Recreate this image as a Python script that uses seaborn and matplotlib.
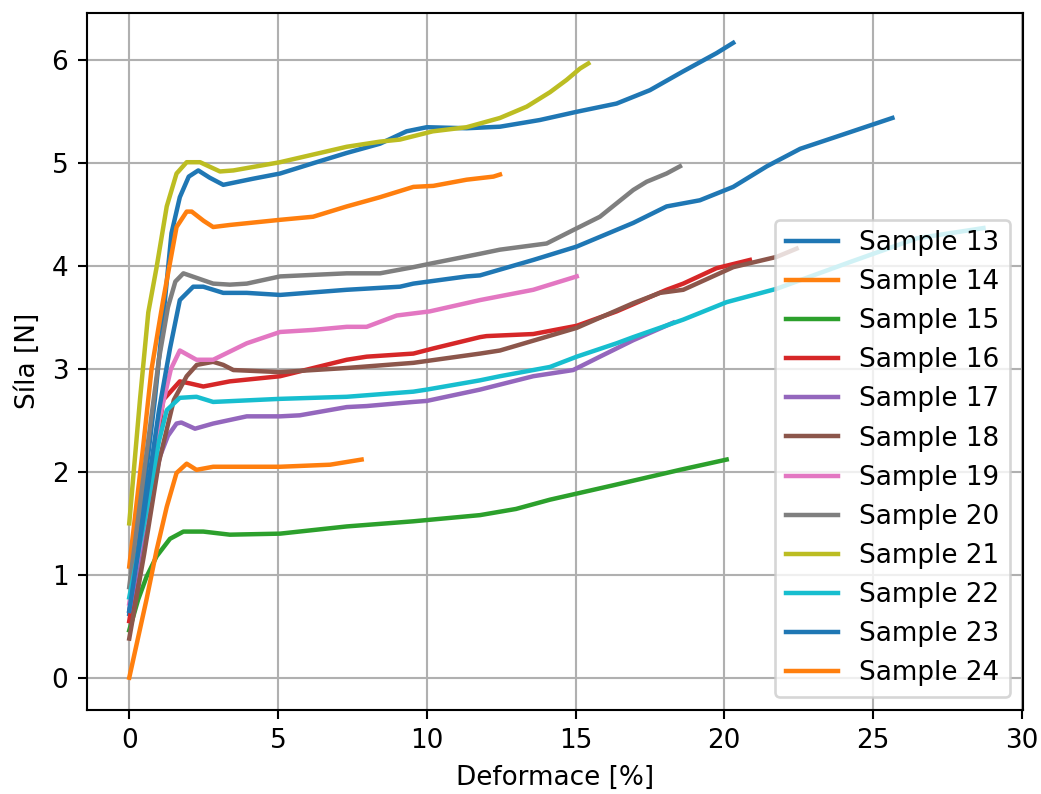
import matplotlib
matplotlib.use("Agg")
import matplotlib.pyplot as plt
import seaborn as sns
import pandas as pd

# Tensile test curves: strain [%] vs force [N] for samples 13-24
s13_x = [0, 0.4, 0.86, 1.2, 1.42, 1.7, 2.0, 2.32, 2.7, 3.16, 4.17, 5.07, 6.18, 7.31, 8.43, 9.32, 10.0,
         11.34, 12.46, 13.8, 15.04, 16.38, 17.5, 18.6, 19.74, 20.3]
s13_y = [0.62, 1.6, 2.7, 3.67, 4.32, 4.67, 4.87, 4.93, 4.86, 4.79, 4.85, 4.9, 5.0, 5.1, 5.19, 5.31, 5.35,
         5.34, 5.355, 5.42, 5.5, 5.58, 5.71, 5.89, 6.07, 6.17]

s14_x = [0, 0.45, 0.75, 1.14, 1.59, 1.93, 2.1, 2.5, 2.82, 3.38, 5.07, 6.18, 7.31, 8.43, 9.55, 10.22,
         11.34, 12.24, 12.46]
s14_y = [1.08, 2.2, 3.0, 3.67, 4.38, 4.53, 4.53, 4.44, 4.38, 4.40, 4.45, 4.48, 4.58, 4.67, 4.77, 4.78,
         4.84, 4.87, 4.89]

s15_x = [0, 0.30, 0.58, 0.92, 1.37, 1.82, 2.49, 3.38, 5.07, 7.31, 9.55, 11.79, 13.0, 14.14, 16.27,
         18.51, 20.08]
s15_y = [0.46, 0.76, 0.98, 1.18, 1.35, 1.42, 1.42, 1.39, 1.40, 1.47, 1.52, 1.58, 1.64, 1.73, 1.87,
         2.02, 2.12]

s16_x = [0, 0.5, 1.14, 1.7, 2.04, 2.49, 3.38, 5.07, 7.31, 7.98, 9.55, 10.22, 11.79, 12.01, 13.58,
         15.04, 16.38, 18.06, 18.62, 19.74, 20.86]
s16_y = [0.55, 1.4, 2.70, 2.88, 2.86, 2.83, 2.88, 2.93, 3.09, 3.12, 3.15, 3.2, 3.31, 3.32, 3.34,
         3.42, 3.56, 3.77, 3.83, 3.98, 4.06]

s17_x = [0, 0.5, 1.03, 1.3, 1.59, 1.75, 2.21, 2.82, 3.95, 5.07, 5.73, 7.31, 7.98, 9.55, 10.0, 11.79,
         13.58, 14.92, 15.82, 16.94, 18.28]
s17_y = [0.65, 1.4, 2.15, 2.35, 2.47, 2.48, 2.42, 2.47, 2.54, 2.54, 2.55, 2.63, 2.64, 2.68, 2.69, 2.80,
         2.93, 2.99, 3.12, 3.28, 3.45]

s18_x = [0, 0.5, 1.0, 1.5, 1.93, 2.27, 2.82, 3.16, 3.5, 5.07, 7.31, 9.55, 11.79, 12.46, 15.04, 16.94,
         17.84, 18.62, 20.3, 21.76, 22.43]
s18_y = [0.38, 1.2, 2.1, 2.7, 2.93, 3.04, 3.07, 3.04, 2.99, 2.97, 3.01, 3.06, 3.15, 3.18, 3.40, 3.64,
         3.74, 3.77, 3.99, 4.09, 4.17]

s19_x = [0, 0.5, 1.0, 1.4, 1.7, 2.26, 2.82, 3.95, 5.07, 6.18, 7.31, 7.98, 8.99, 10.1, 11.79, 13.58, 15.04]
s19_y = [0.72, 1.5, 2.5, 3.0, 3.18, 3.09, 3.09, 3.25, 3.36, 3.38, 3.41, 3.41, 3.52, 3.56, 3.67, 3.77, 3.90]

s20_x = [0, 0.5, 1.0, 1.3, 1.55, 1.82, 2.82, 3.38, 3.95, 5.07, 7.31, 8.43, 9.55, 10.22, 11.79, 12.46,
         14.03, 14.92, 15.82, 16.94, 17.39, 18.06, 18.51]
s20_y = [0.88, 2.0, 3.1, 3.6, 3.85, 3.93, 3.83, 3.82, 3.83, 3.90, 3.93, 3.93, 3.99, 4.03, 4.12, 4.16,
         4.22, 4.35, 4.48, 4.74, 4.82, 4.90, 4.97]

s21_x = [0, 0.36, 0.64, 0.92, 1.26, 1.59, 1.93, 2.38, 2.6, 3.05, 3.5, 5.07, 7.31, 8.43, 9.1, 10.2,
         11.34, 12.46, 13.36, 14.14, 14.7, 15.15, 15.43]
s21_y = [1.50, 2.70, 3.55, 3.99, 4.58, 4.90, 5.01, 5.01, 4.98, 4.92, 4.93, 5.01, 5.16, 5.21, 5.23, 5.31,
         5.35, 5.44, 5.55, 5.69, 5.81, 5.92, 5.97]

s22_x = [0, 0.5, 1.0, 1.26, 1.70, 2.26, 2.82, 5.07, 7.31, 9.55, 10.0, 11.79, 12.46, 14.14, 15.04,
         16.38, 16.94, 18.62, 20.08, 21.76, 24.23, 26.47, 28.71]
s22_y = [0.78, 1.5, 2.3, 2.60, 2.72, 2.73, 2.68, 2.71, 2.73, 2.78, 2.80, 2.89, 2.93, 3.02, 3.12,
         3.25, 3.31, 3.48, 3.65, 3.78, 4.04, 4.27, 4.37]

s23_x = [0, 0.5, 1.0, 1.37, 1.7, 2.15, 2.49, 3.16, 3.95, 5.07, 7.31, 9.1, 9.55, 11.34, 11.79, 13.58,
         15.04, 16.94, 18.06, 19.18, 20.3, 21.43, 22.55, 24.0, 25.65]
s23_y = [0.65, 1.6, 2.6, 3.2, 3.67, 3.80, 3.80, 3.74, 3.74, 3.72, 3.77, 3.80, 3.83, 3.90, 3.91, 4.06,
         4.19, 4.42, 4.58, 4.64, 4.77, 4.97, 5.14, 5.28, 5.44]

s24_x = [0, 0.58, 0.92, 1.26, 1.59, 1.93, 2.26, 2.82, 5.07, 6.75, 7.81]
s24_y = [0.0, 0.76, 1.24, 1.66, 1.99, 2.08, 2.02, 2.05, 2.05, 2.07, 2.12]

sample_names = [f"Sample {n}" for n in range(13, 25)]
sample_x = [s13_x, s14_x, s15_x, s16_x, s17_x, s18_x, s19_x, s20_x, s21_x, s22_x, s23_x, s24_x]
sample_y = [s13_y, s14_y, s15_y, s16_y, s17_y, s18_y, s19_y, s20_y, s21_y, s22_y, s23_y, s24_y]

frames = []
for name, xs, ys in zip(sample_names, sample_x, sample_y):
    frames.append(pd.DataFrame({"strain": xs, "force": ys, "sample": name}))
data = pd.concat(frames, ignore_index=True)

tab10 = sns.color_palette("tab10", 10)
colors = [tab10[i % 10] for i in range(len(sample_names))]

dpi = 189
fig = plt.figure(figsize=(1041 / dpi, 794 / dpi), dpi=dpi)
ax = fig.add_axes([86.7 / 1041, 1 - 710 / 794, (1023 - 86.7) / 1041, (710 - 12.7) / 794])

for name, col in zip(sample_names, colors):
    sub = data[data["sample"] == name]
    sns.lineplot(data=sub, x="strain", y="force", color=col, label=name,
                 estimator=None, sort=False, linewidth=1.7, ax=ax)

ax.set_xlim(-1.43, 30.04)
ax.set_ylim(-0.314, 6.463)
ax.set_xticks([0, 5, 10, 15, 20, 25, 30])
ax.set_yticks([0, 1, 2, 3, 4, 5, 6])
ax.grid(True, color="#b0b0b0", linewidth=0.8)
ax.set_axisbelow(True)
ax.set_xlabel("Deformace [%]")
ax.set_ylabel("Síla [N]")
ax.legend(loc="lower right")

fig.savefig("out.png", dpi=dpi)
